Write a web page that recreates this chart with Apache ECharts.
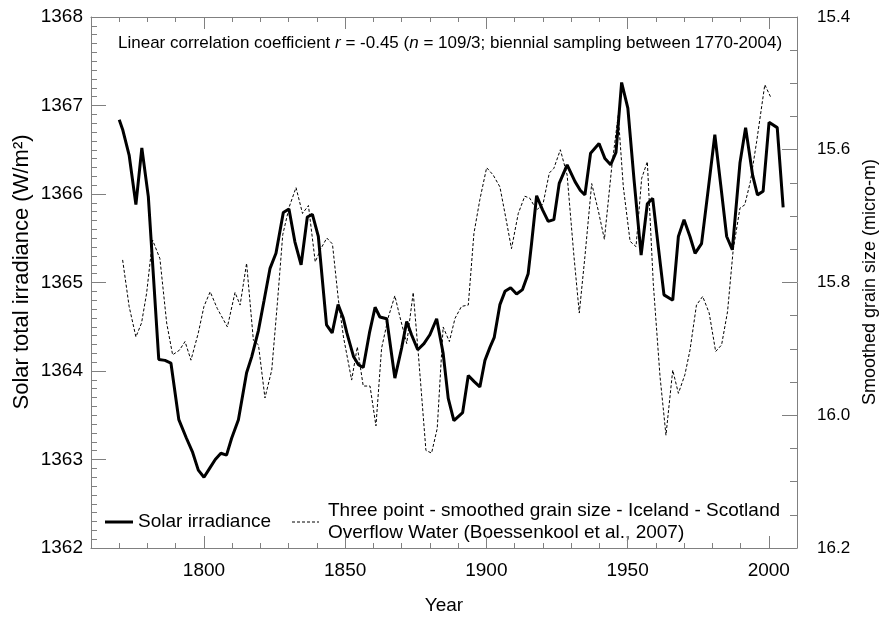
<!DOCTYPE html>
<html>
<head>
<meta charset="utf-8">
<script src="https://cdn.jsdelivr.net/npm/echarts@6/dist/echarts.min.js"></script>
<style>html,body{margin:0;padding:0;background:#fff;}#c{width:885px;height:629px;}</style>
</head>
<body>
<div id="c"></div>
<script>
// Solar total irradiance (left axis, W/m2)
const solarYears = [1770,1771.2,1773.5,1775.9,1778,1780.3,1784,1786.2,1788.3,1791.1,1793.8,1796,1798,1800,1802,1804,1806,1808,1809.8,1812.2,1815.1,1816.9,1819.3,1821.3,1823.4,1825.5,1828.1,1830.1,1832.2,1834.4,1836.6,1838.4,1840.5,1843.4,1845.4,1847.5,1849.3,1850.6,1853,1854.7,1856.4,1858.6,1860.6,1862.3,1864.7,1867.6,1870,1871.8,1873.5,1875.7,1877.9,1880,1882.4,1884.7,1886.5,1888.5,1891.6,1893.6,1895.7,1897.7,1899.5,1901.3,1902.8,1904.8,1906.6,1908.6,1910.7,1912.8,1914.8,1916,1917.8,1919.9,1921.9,1923.9,1925.8,1928.6,1931.4,1933.3,1934.9,1936.9,1939.9,1942,1944,1945.9,1947.9,1950.1,1952.3,1954.8,1957,1958.9,1960.9,1962.9,1966,1968,1970,1972.1,1973.9,1976.2,1978.6,1980.9,1983,1985.1,1987.1,1989.8,1991.8,1994.3,1996,1998,2000.1,2003,2005.1];
const solarValues = [1366.84,1366.73,1366.44,1365.88,1366.52,1365.97,1364.13,1364.12,1364.09,1363.45,1363.24,1363.08,1362.88,1362.80,1362.90,1363.00,1363.07,1363.05,1363.24,1363.45,1363.98,1364.16,1364.46,1364.80,1365.16,1365.33,1365.79,1365.83,1365.46,1365.20,1365.74,1365.77,1365.52,1364.52,1364.43,1364.75,1364.60,1364.43,1364.16,1364.07,1364.04,1364.43,1364.72,1364.61,1364.59,1363.92,1364.26,1364.56,1364.41,1364.24,1364.31,1364.41,1364.59,1364.20,1363.69,1363.44,1363.53,1363.95,1363.88,1363.82,1364.12,1364.27,1364.38,1364.75,1364.90,1364.94,1364.87,1364.92,1365.10,1365.44,1365.98,1365.82,1365.69,1365.71,1366.12,1366.33,1366.14,1366.04,1365.99,1366.46,1366.57,1366.40,1366.33,1366.47,1367.26,1366.97,1366.16,1365.31,1365.89,1365.95,1365.40,1364.86,1364.80,1365.52,1365.71,1365.52,1365.33,1365.44,1366.06,1366.67,1366.10,1365.52,1365.37,1366.35,1366.75,1366.21,1365.99,1366.03,1366.81,1366.75,1365.85];

// Three-point smoothed grain size (right axis, micro-m, inverted)
const grainYears = [1771.2,1773.5,1775.9,1777.9,1779.7,1781.8,1784.4,1786.8,1788.9,1791.3,1793.3,1795.4,1798,1800,1802.2,1804.7,1808.3,1811,1812.8,1815.1,1817.5,1819.3,1821.6,1824,1826,1827.9,1830.2,1832.6,1834.9,1837,1839.4,1841.4,1843.5,1845.5,1847.6,1849.4,1852.3,1854.3,1856.4,1858.8,1860.9,1862.9,1865.3,1867.6,1869.4,1871.8,1874.1,1875.9,1878.6,1880.6,1882.6,1884.7,1886.9,1888.9,1891.2,1893.6,1895.6,1897.7,1900.1,1902.4,1904.8,1906.9,1908.9,1911.3,1913.6,1915.4,1917.8,1920.1,1922.3,1923.9,1926.2,1928.6,1930.9,1932.9,1934.9,1937.3,1939.6,1941.8,1944.4,1946.7,1948.5,1950.9,1953,1955,1957,1959.1,1961.5,1963.6,1966,1968,1970.3,1972.1,1974.4,1976.6,1978.9,1981.2,1983.3,1985.4,1987.4,1989.8,1991.5,1993.5,1995.7,1998.6,2000.6];
const grainValues = [15.766,15.836,15.882,15.861,15.816,15.736,15.764,15.861,15.909,15.902,15.889,15.917,15.876,15.836,15.814,15.839,15.867,15.815,15.834,15.771,15.887,15.894,15.974,15.932,15.831,15.728,15.686,15.657,15.696,15.684,15.769,15.749,15.733,15.742,15.826,15.882,15.947,15.897,15.956,15.956,16.016,15.899,15.852,15.820,15.852,15.892,15.815,15.907,16.053,16.057,16.020,15.867,15.889,15.854,15.836,15.834,15.726,15.675,15.627,15.638,15.656,15.703,15.749,15.696,15.670,15.673,15.691,15.681,15.635,15.628,15.600,15.638,15.755,15.846,15.761,15.651,15.691,15.735,15.626,15.548,15.656,15.738,15.746,15.643,15.618,15.801,15.942,16.030,15.932,15.967,15.939,15.902,15.834,15.821,15.846,15.904,15.894,15.844,15.751,15.688,15.683,15.648,15.588,15.502,15.520];

const yearLabels = [1800,1850,1900,1950,2000];
const decadeTicks = [1770,1780,1790,1800,1810,1820,1830,1840,1850,1860,1870,1880,1890,1900,1910,1920,1930,1940,1950,1960,1970,1980,1990,2000];

const FONT = "'Liberation Sans', Arial, sans-serif";
const AX = '#808080';
const chart = echarts.init(document.getElementById('c'), null, {renderer: 'canvas'});

function xAx(pos, major, labels) {
  return {
    type: 'value', position: pos, min: 1760, max: 2010,
    axisLine: {show: !major, lineStyle: {color: AX, width: 1}},
    axisTick: {show: true, inside: true, length: major ? 12 : 5, customValues: major ? yearLabels : decadeTicks, lineStyle: {color: AX}},
    axisLabel: labels ? {show: true, customValues: yearLabels, fontFamily: FONT, fontSize: 19, color: '#000', margin: 13, formatter: v => String(v)} : {show: false},
    splitLine: {show: false}
  };
}

chart.setOption({
  animation: false,
  backgroundColor: '#fff',
  grid: {left: 91, right: 88, top: 17, bottom: 81, containLabel: false},
  title: {
    left: 113, top: 30,
    text: '{a|Linear correlation coefficient }{i|r}{a| = -0.45 (}{i|n}{a| = 109/3; biennial sampling between 1770-2004)}',
    textStyle: {
      fontFamily: FONT, fontSize: 17, fontWeight: 'normal', color: '#000',
      rich: {
        a: {fontFamily: FONT, fontSize: 17, color: '#000'},
        i: {fontFamily: FONT, fontSize: 17, fontStyle: 'italic', color: '#000'}
      }
    }
  },
  xAxis: [
    xAx('bottom', false, false),
    xAx('bottom', true, true),
    xAx('top', false, false),
    xAx('top', true, false)
  ],
  yAxis: [
    {
      type: 'value', position: 'left', min: 1362, max: 1368, interval: 1,
      axisLine: {show: true, lineStyle: {color: AX}},
      axisTick: {show: true, inside: true, length: 15, lineStyle: {color: AX}},
      minorTick: {show: true, splitNumber: 10, length: 6, lineStyle: {color: AX}},
      axisLabel: {fontFamily: FONT, fontSize: 19, color: '#000', margin: 8, formatter: v => String(v)},
      splitLine: {show: false}
    },
    {
      type: 'value', position: 'right', min: 15.4, max: 16.2, interval: 0.2, inverse: true,
      axisLine: {show: true, lineStyle: {color: AX}},
      axisTick: {show: true, inside: true, length: 15, lineStyle: {color: AX}},
      minorTick: {show: true, splitNumber: 4, length: 7, lineStyle: {color: AX}},
      axisLabel: {fontFamily: FONT, fontSize: 17, color: '#000', margin: 20, formatter: v => v.toFixed(1)},
      splitLine: {show: false}
    }
  ],
  series: [
    {
      name: 'Solar irradiance', type: 'line', xAxisIndex: 0, yAxisIndex: 0,
      data: solarYears.map((y, i) => [y, solarValues[i]]),
      symbol: 'none', lineStyle: {color: '#000', width: 3}, z: 3
    },
    {
      name: 'Grain size', type: 'line', xAxisIndex: 0, yAxisIndex: 1,
      data: grainYears.map((y, i) => [y, grainValues[i]]),
      symbol: 'none', lineStyle: {color: '#000', width: 1, type: [3, 2]}, z: 2
    }
  ],
  graphic: [
    {type: 'line', shape: {x1: 105, y1: 522, x2: 133, y2: 522}, style: {stroke: '#000', lineWidth: 3}},
    {type: 'text', x: 138, y: 522, style: {text: 'Solar irradiance', font: '19px ' + FONT, fill: '#000', verticalAlign: 'middle', align: 'left'}},
    {type: 'line', shape: {x1: 292, y1: 522, x2: 319, y2: 522}, style: {stroke: '#000', lineWidth: 1, lineDash: [3, 2]}},
    {type: 'text', x: 328, y: 511, style: {text: 'Three point - smoothed grain size - Iceland - Scotland', font: '19px ' + FONT, fill: '#000', verticalAlign: 'middle', align: 'left'}},
    {type: 'text', x: 328, y: 533, style: {text: 'Overflow Water (Boessenkool et al., 2007)', font: '19px ' + FONT, fill: '#000', verticalAlign: 'middle', align: 'left'}},
    {type: 'text', x: 444, y: 606, style: {text: 'Year', font: '19px ' + FONT, fill: '#000', verticalAlign: 'middle', align: 'center'}},
    {type: 'text', x: 22, y: 272, rotation: Math.PI / 2, style: {text: 'Solar total irradiance (W/m\u00B2)', font: '22px ' + FONT, fill: '#000', verticalAlign: 'middle', align: 'center'}},
    {type: 'text', x: 870, y: 282, rotation: Math.PI / 2, style: {text: 'Smoothed grain size (micro-m)', font: '18px ' + FONT, fill: '#000', verticalAlign: 'middle', align: 'center'}}
  ]
});
</script>
</body>
</html>
